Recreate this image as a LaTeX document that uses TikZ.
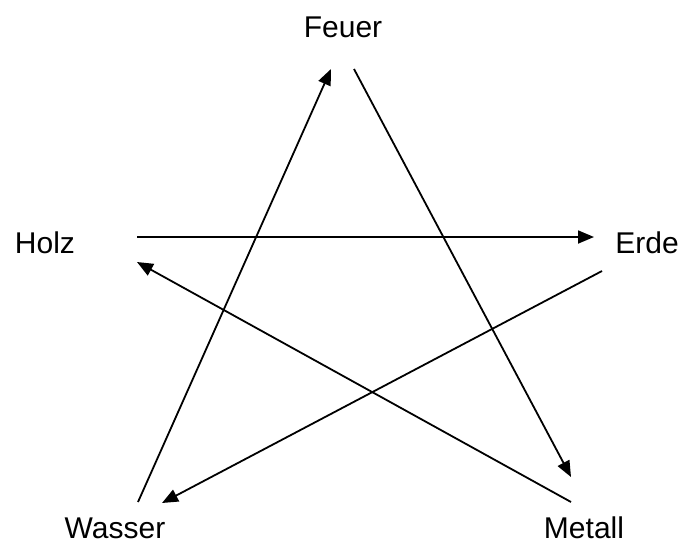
\documentclass[tikz,border=0pt]{standalone}
\usepackage{fontspec}
\setmainfont{Liberation Sans}
\usetikzlibrary{arrows.meta}
\begin{document}
\begin{tikzpicture}[x=1pt,y=-1pt,
  lbl/.style={anchor=base,inner sep=0pt,font=\fontsize{30}{36}\selectfont},
  conn/.style={line width=1.8pt,-{Triangle[length=16pt,width=13pt]}}]
\useasboundingbox (0,0) rectangle (682,542);
\node[lbl] (feuer) at (343,37) {Feuer};
\node[lbl] (holz) at (45,253) {Holz};
\node[lbl] (erde) at (647,253) {Erde};
\node[lbl] (wasser) at (115,538) {Wasser};
\node[lbl] (metall) at (584,538) {Metall};
% endpoints
\coordinate (wS) at (138,502);
\coordinate (fT) at (331,69);
\coordinate (fS) at (354,69);
\coordinate (mT) at (571,477);
\coordinate (hS) at (137,237);
\coordinate (eT) at (594,237);
\coordinate (eS) at (602,271);
\coordinate (wT) at (162,503);
\coordinate (mS) at (571,502);
\coordinate (hT) at (137,262);
\draw[conn] (wS) -- (fT);
\draw[conn] (fS) -- (mT);
\draw[conn] (hS) -- (eT);
\draw[conn] (eS) -- (wT);
\draw[conn] (mS) -- (hT);
\end{tikzpicture}
\end{document}
